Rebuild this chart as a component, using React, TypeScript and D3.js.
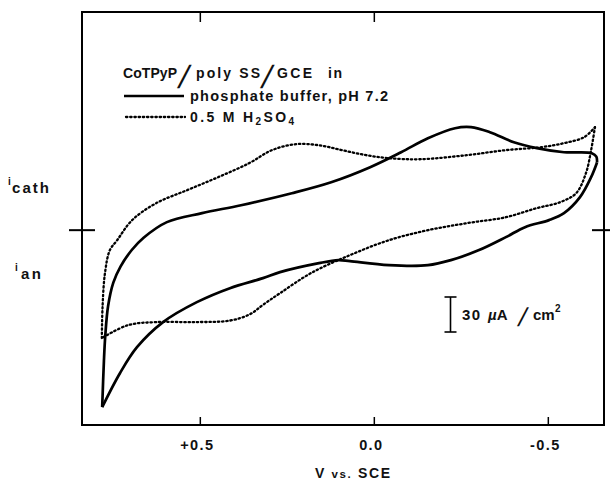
import * as d3 from 'd3';

// Cyclic voltammograms, V vs SCE (x) and current density in µA/cm² (cathodic up)
type Pt = [number, number];

const phosphateUpper: Pt[] = [
  [0.782, -151.7], [0.777, -112], [0.773, -90], [0.765, -65], [0.750, -45],
  [0.729, -31], [0.697, -17], [0.663, -6.5], [0.596, 6.9], [0.495, 14.6],
  [0.383, 21.4], [0.237, 31.7], [0.124, 41.1], [0.012, 54.0], [-0.077, 66.8],
  [-0.154, 78.8], [-0.232, 87.4], [-0.278, 88.3], [-0.332, 84.0], [-0.401, 75.4],
  [-0.467, 70.3], [-0.545, 66.8], [-0.625, 66.0], [-0.638, 63.0], [-0.640, 58.0],
];
const phosphateLower: Pt[] = [
  [-0.640, 58.0], [-0.623, 45.4], [-0.591, 28.3], [-0.545, 14.6], [-0.502, 8.6],
  [-0.433, 2.6], [-0.378, -6.0], [-0.301, -17.1], [-0.220, -25.7], [-0.154, -30.0],
  [-0.042, -30.0], [0.070, -26.6], [0.103, -25.7], [0.159, -28.3], [0.271, -36.0],
  [0.320, -41.1], [0.415, -49.7], [0.510, -61.7], [0.607, -78.8], [0.682, -100.3],
  [0.731, -122.6], [0.782, -151.7],
];
const sulfuricUpper: Pt[] = [
  [0.783, -92.5], [0.781, -66], [0.774, -36.8], [0.760, -17.1], [0.739, -8.6],
  [0.696, 8.6], [0.627, 23.1], [0.538, 34.3], [0.449, 45.4], [0.360, 57.4],
  [0.294, 68.6], [0.225, 73.7], [0.159, 72.8], [0.093, 68.6], [0.024, 64.3],
  [-0.042, 61.7], [-0.131, 60.8], [-0.266, 64.3], [-0.378, 68.6], [-0.479, 71.1],
  [-0.545, 74.6], [-0.603, 79.7], [-0.634, 88.3],
];
const sulfuricLower: Pt[] = [
  [-0.634, 88.3], [-0.623, 68.6], [-0.608, 48.8], [-0.580, 31.7], [-0.534, 24.0],
  [-0.467, 18.9], [-0.378, 11.1], [-0.266, 6.0], [-0.154, 0], [-0.042, -8.6],
  [0.070, -21.4], [0.182, -36.8], [0.271, -54.0], [0.320, -64.0], [0.357, -72.0],
  [0.415, -77.5], [0.515, -78.8], [0.627, -78.8], [0.708, -81.4], [0.783, -92.5],
];

const xTicks = [0.5, 0.0, -0.5];
const xTickLabels = ['+0.5', '0.0', '-0.5'];
const topTicks = [0.5, 0.0];
const scaleBar = 30; // µA/cm²

const W = 610;
const H = 482;
const left = 82;
const right = 604;
const top = 12;
const bottom = 425;

const FONT = "'Liberation Sans', Arial, Helvetica, sans-serif";
const INK = '#111';

// tall slanted slash, as set in the original lettering
function Slash({ x, y, size = 32 }: { x: number; y: number; size?: number }) {
  return (
    <text
      transform={`translate(${x},${y}) skewX(-14)`}
      fontSize={size}
      fontWeight="normal"
      fill={INK}
      fontFamily={FONT}
    >
      /
    </text>
  );
}

export default function App() {
  const x = d3.scaleLinear().domain([0.84, -0.66]).range([left, right]);
  const y = d3.scaleLinear().domain([-167, 187]).range([bottom, top]);

  const line = d3
    .line<Pt>()
    .x((d) => x(d[0]))
    .y((d) => y(d[1]))
    .curve(d3.curveCatmullRom.alpha(0.5));

  const y0 = y(0);
  const barX = 450.5;
  const barTop = 297;
  const barBottom = barTop + (y(0) - y(scaleBar));

  return (
    <svg
      width={W}
      height={H}
      style={{ position: 'absolute', left: 0, top: 0, background: '#fff' }}
      fontFamily={FONT}
    >
      {/* frame */}
      <rect x={left} y={top} width={right - left} height={bottom - top} fill="none" stroke="#000" strokeWidth={2} />

      {/* x ticks */}
      {xTicks.map((t) => (
        <line key={`b${t}`} x1={x(t)} x2={x(t)} y1={bottom} y2={bottom - 8} stroke="#000" strokeWidth={1.5} />
      ))}
      {topTicks.map((t) => (
        <line key={`t${t}`} x1={x(t)} x2={x(t)} y1={top} y2={top + 10} stroke="#000" strokeWidth={1.5} />
      ))}
      {xTicks.map((t, i) => (
        <text
          key={`l${t}`}
          x={x(t) - 3}
          y={450}
          textAnchor="middle"
          fontSize={14.5}
          fontWeight="bold"
          letterSpacing={1.4}
          fill={INK}
        >
          {xTickLabels[i]}
        </text>
      ))}
      <text x={315} y={478} fontSize={14} fontWeight="bold" fill={INK} textLength={75} lengthAdjust="spacing">
        V <tspan fontSize={11.5}>vs.</tspan> SCE
      </text>

      {/* zero-current ticks */}
      <line x1={69} x2={95} y1={y0} y2={y0} stroke="#000" strokeWidth={2} />
      <line x1={592} x2={610} y1={y0} y2={y0} stroke="#000" strokeWidth={2} />

      {/* y labels */}
      <text x={8} y={185} fontSize={10} fontWeight="bold" fill={INK}>i</text>
      <text x={12} y={193} fontSize={15} fontWeight="bold" fill={INK} textLength={37} lengthAdjust="spacing">cath</text>
      <text x={15} y={271} fontSize={10} fontWeight="bold" fill={INK}>i</text>
      <text x={21} y={279} fontSize={15} fontWeight="bold" fill={INK} textLength={20} lengthAdjust="spacing">an</text>

      {/* curves */}
      {[phosphateUpper, phosphateLower].map((d, i) => (
        <path key={`p${i}`} d={line(d) ?? ''} fill="none" stroke="#000" strokeWidth={2.7} strokeLinejoin="round" />
      ))}
      {[sulfuricUpper, sulfuricLower].map((d, i) => (
        <path
          key={`s${i}`}
          d={line(d) ?? ''}
          fill="none"
          stroke="#000"
          strokeWidth={2.3}
          strokeDasharray="1.4,2.8"
          strokeLinecap="round"
        />
      ))}

      {/* legend */}
      <g fontSize={14} fontWeight="bold" fill={INK}>
        <text x={123} y={78} textLength={54} lengthAdjust="spacing">CoTPyP</text>
        <text x={196} y={78} textLength={64} lengthAdjust="spacing">poly SS</text>
        <text x={277} y={78} textLength={35} lengthAdjust="spacing">GCE</text>
        <text x={328} y={78} textLength={14} lengthAdjust="spacing">in</text>
        <text x={190} y={101} fontSize={14.5} textLength={198} lengthAdjust="spacing">
          phosphate buffer, pH 7.2
        </text>
        <text x={190} y={122} textLength={104} lengthAdjust="spacing">
          0.5 M  H<tspan fontSize={10} dy={3}>2</tspan>
          <tspan dy={-3}>SO</tspan>
          <tspan fontSize={10} dy={3}>4</tspan>
        </text>
      </g>
      <Slash x={177} y={88} />
      <Slash x={260} y={88} />
      <line x1={124} x2={184} y1={96} y2={96} stroke="#000" strokeWidth={2.7} />
      <line x1={126} x2={185} y1={117} y2={117} stroke="#000" strokeWidth={2.3} strokeDasharray="1.4,2.8" strokeLinecap="round" />

      {/* scale bar */}
      <line x1={barX} x2={barX} y1={barTop} y2={barBottom} stroke="#000" strokeWidth={1.6} />
      <line x1={barX - 6} x2={barX + 6} y1={barTop} y2={barTop} stroke="#000" strokeWidth={1.6} />
      <line x1={barX - 6} x2={barX + 6} y1={barBottom} y2={barBottom} stroke="#000" strokeWidth={1.6} />
      <g fontSize={15} fontWeight="bold" fill={INK}>
        <text x={462} y={320} textLength={18} lengthAdjust="spacing">{scaleBar}</text>
        <text x={488} y={320}>
          <tspan fontStyle="italic">µ</tspan>A
        </text>
        <text x={533} y={320}>cm</text>
        <text x={555} y={312} fontSize={10}>2</text>
      </g>
      <Slash x={517} y={326} size={26} />
    </svg>
  );
}
